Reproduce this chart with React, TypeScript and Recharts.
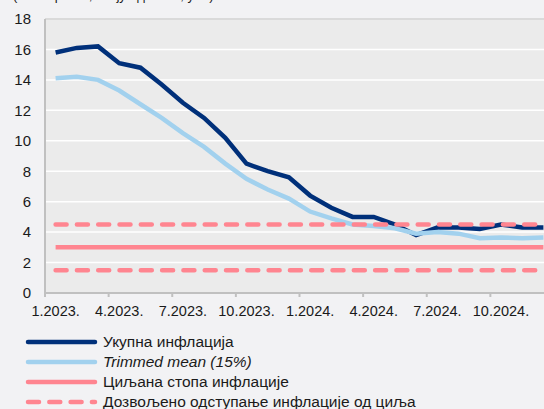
import React from 'react';
import { LineChart, Line, XAxis, YAxis, CartesianGrid, ReferenceLine } from 'recharts';

// месеци, 1.2023. – 12.2024.
const MONTHS = [
  '1.2023.', '2.2023.', '3.2023.', '4.2023.', '5.2023.', '6.2023.',
  '7.2023.', '8.2023.', '9.2023.', '10.2023.', '11.2023.', '12.2023.',
  '1.2024.', '2.2024.', '3.2024.', '4.2024.', '5.2024.', '6.2024.',
  '7.2024.', '8.2024.', '9.2024.', '10.2024.', '11.2024.', '12.2024.',
];

// Укупна инфлација
const TOTAL = [
  15.8, 16.1, 16.2, 15.1, 14.8, 13.7, 12.5, 11.5, 10.2, 8.5, 8.0, 7.6,
  6.4, 5.6, 5.0, 5.0, 4.5, 3.8, 4.3, 4.3, 4.2, 4.5, 4.3, 4.3,
];

// Trimmed mean (15%)
const TRIMMED = [
  14.1, 14.2, 14.0, 13.3, 12.4, 11.5, 10.5, 9.6, 8.5, 7.5, 6.8, 6.2,
  5.35, 4.9, 4.5, 4.4, 4.25, 3.9, 4.0, 3.9, 3.6, 3.65, 3.6, 3.65,
];

// циљ и границе дозвољеног одступања
const TARGET = 3;
const TOLERANCE_LOW = 1.5;
const TOLERANCE_HIGH = 4.5;

const Y_TICKS = [0, 2, 4, 6, 8, 10, 12, 14, 16, 18];

const data = MONTHS.map((month, i) => ({
  month,
  total: TOTAL[i],
  trimmed: TRIMMED[i],
  target: TARGET,
  low: TOLERANCE_LOW,
  high: TOLERANCE_HIGH,
}));

const NAVY = '#00307a';
const LIGHT = '#a2d1ee';
const PINK = '#ff8590';
const AXIS = '#c0c0c0';
const FONT = "Arial, 'Liberation Sans', sans-serif";
const DASH = '11 10.3';

const CHART_W = 600;
const Y_W = 45;
const RIGHT = 46;
const PLOT_W = CHART_W - Y_W - RIGHT;
const BAND = PLOT_W / MONTHS.length;

const MonthTick = (props: any) => {
  const { x, y, payload } = props;
  return (
    <g>
      <line x1={x - BAND / 2} x2={x - BAND / 2} y1={y} y2={y + 4} stroke={AXIS} strokeWidth={2} />
      <text x={x} y={y + 23} textAnchor="middle" fontSize={14.5} fill="#1a1a1a" fontFamily={FONT}>
        {payload.value}
      </text>
    </g>
  );
};

const legendItems = [
  { label: 'Укупна инфлација', color: NAVY, dashed: false, italic: false },
  { label: 'Trimmed mean (15%)', color: LIGHT, dashed: false, italic: true },
  { label: 'Циљана стопа инфлације', color: PINK, dashed: false, italic: false },
  { label: 'Дозвољено одступање инфлације од циља', color: PINK, dashed: true, italic: false },
];

export default function App() {
  return (
    <div
      style={{
        position: 'fixed',
        left: 0,
        top: 0,
        width: 544,
        height: 409,
        overflow: 'hidden',
        background: '#f2f2f4',
        fontFamily: FONT,
      }}
    >
      <div style={{ position: 'absolute', left: 13, top: -12, fontSize: 13, lineHeight: '15px', color: '#1a1a1a', whiteSpace: 'nowrap' }}>
        (стопе раста, међугодишње, у %)
      </div>
      <LineChart
        width={CHART_W}
        height={409}
        data={data}
        margin={{ top: 19, right: RIGHT, bottom: 86, left: 0 }}
      >
        <CartesianGrid vertical={false} stroke="#ffffff" strokeWidth={1.5} fill="#ebebeb" />
        <XAxis
          dataKey="month"
          interval={2}
          height={30}
          tickLine={false}
          tickSize={0}
          tickMargin={0}
          padding={{ left: BAND / 2, right: BAND / 2 }}
          axisLine={{ stroke: AXIS, strokeWidth: 2 }}
          tick={<MonthTick />}
        />
        <YAxis
          width={Y_W}
          domain={[0, 18]}
          ticks={Y_TICKS}
          interval={0}
          tickLine={false}
          tickSize={0}
          tickMargin={14}
          axisLine={{ stroke: AXIS, strokeWidth: 2 }}
          tick={{ fontSize: 15, fill: '#1a1a1a', fontFamily: FONT }}
        />
        <ReferenceLine y={18} stroke="#cfcfcf" strokeWidth={1.5} />
        <Line dataKey="total" stroke={NAVY} strokeWidth={4.5} dot={false} isAnimationActive={false} />
        <Line dataKey="trimmed" stroke={LIGHT} strokeWidth={4.5} dot={false} isAnimationActive={false} />
        <Line dataKey="target" stroke={PINK} strokeWidth={4.5} dot={false} isAnimationActive={false} />
        <Line
          dataKey="high"
          stroke={PINK}
          strokeWidth={4.5}
          strokeDasharray={DASH}
          strokeLinecap="round"
          dot={false}
          isAnimationActive={false}
        />
        <Line
          dataKey="low"
          stroke={PINK}
          strokeWidth={4.5}
          strokeDasharray={DASH}
          strokeLinecap="round"
          dot={false}
          isAnimationActive={false}
        />
      </LineChart>
      <div style={{ position: 'absolute', left: 0, top: 332 }}>
        {legendItems.map((item) => (
          <div key={item.label} style={{ display: 'flex', alignItems: 'center', height: 20 }}>
            <svg width={103} height={20}>
              <line
                x1={28}
                x2={95}
                y1={10}
                y2={10}
                stroke={item.color}
                strokeWidth={4.5}
                strokeLinecap="round"
                strokeDasharray={item.dashed ? DASH : undefined}
              />
            </svg>
            <span style={{ fontSize: 15.5, color: '#1a1a1a', fontStyle: item.italic ? 'italic' : 'normal', whiteSpace: 'nowrap' }}>
              {item.label}
            </span>
          </div>
        ))}
      </div>
    </div>
  );
}
